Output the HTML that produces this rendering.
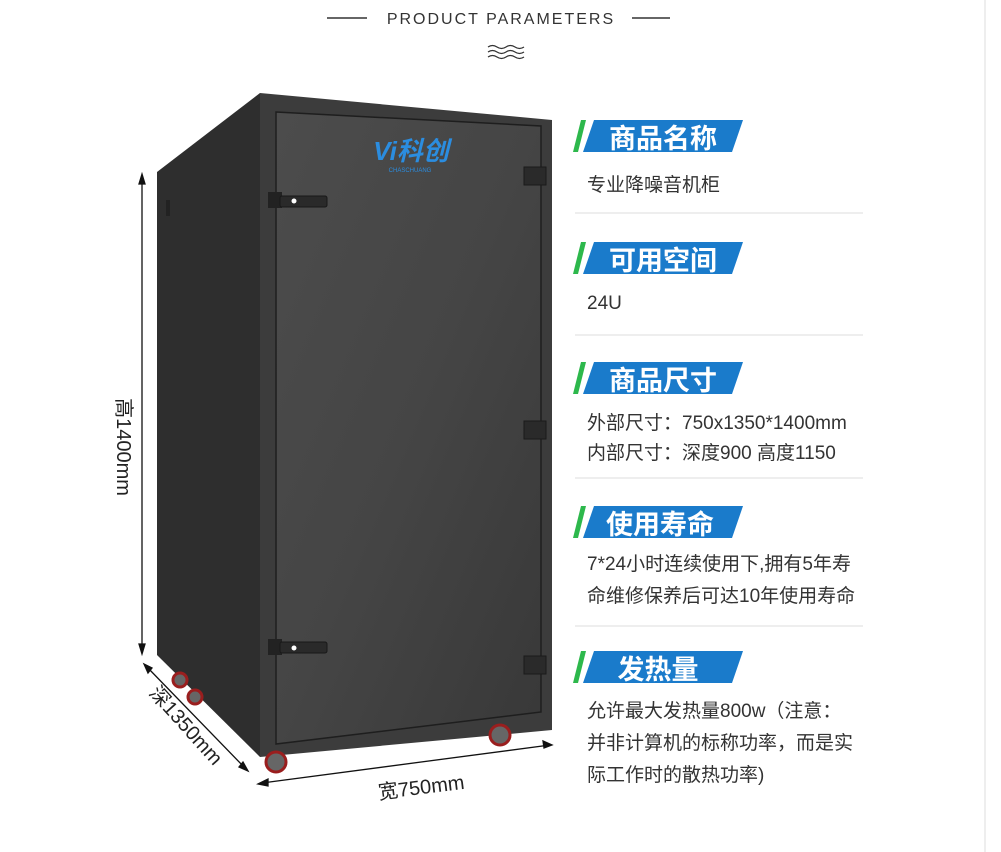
<!DOCTYPE html>
<html><head><meta charset="utf-8"><style>
body{margin:0;background:#fff;width:1001px;height:852px;overflow:hidden;font-family:"Liberation Sans","Noto Sans CJK SC",sans-serif}
svg{position:absolute;left:0;top:0}
</style></head><body>
<svg width="1001" height="852" viewBox="0 0 1001 852" font-family="Liberation Sans, Noto Sans CJK SC, sans-serif">
<defs>
<linearGradient id="door" x1="0" y1="0" x2="1" y2="1">
<stop offset="0" stop-color="#4c4c4c"/><stop offset="0.5" stop-color="#454545"/><stop offset="1" stop-color="#383838"/></linearGradient>
</defs>
<line x1="985" y1="0" x2="985" y2="852" stroke="#eee" stroke-width="2"/>
<line x1="327" y1="18" x2="367" y2="18" stroke="#333" stroke-width="1.5"/>
<line x1="632" y1="18" x2="670" y2="18" stroke="#333" stroke-width="1.5"/>
<text x="501" y="24" text-anchor="middle" font-size="16" fill="#333" letter-spacing="2">PRODUCT PARAMETERS</text>
<g fill="none" stroke="#333" stroke-width="1.2">
<path d="M488 47 q4.5 -3 9 0 t9 0 t9 0 t9 0"/>
<path d="M488 52 q4.5 -3 9 0 t9 0 t9 0 t9 0"/>
<path d="M488 57 q4.5 -3 9 0 t9 0 t9 0 t9 0"/>
</g>
<polygon points="157,172 260,93 260,757 157,655" fill="#2e2e2e"/>
<polygon points="260,93 552,120 552,730 260,757" fill="#3c3c3c"/>
<polygon points="276,112 541,126 541,712 276,744" fill="url(#door)" stroke="#1e1e1e" stroke-width="1.5"/>
<text x="411" y="160" text-anchor="middle" font-size="26" font-style="italic" font-weight="bold" fill="#2b8de0">Vi科创</text>
<text x="410" y="172" text-anchor="middle" font-size="6" fill="#2b8de0">CHASCHUANG</text>
<rect x="268" y="192" width="14" height="16" fill="#222"/><rect x="280" y="196" width="47" height="11" rx="2" fill="#2a2a2a" stroke="#181818"/><circle cx="294" cy="201" r="2.5" fill="#fff"/>
<rect x="268" y="639" width="14" height="16" fill="#222"/><rect x="280" y="642" width="47" height="11" rx="2" fill="#2a2a2a" stroke="#181818"/><circle cx="294" cy="648" r="2.5" fill="#fff"/>
<rect x="524" y="167" width="22" height="18" fill="#2a2a2a" stroke="#1a1a1a"/>
<rect x="524" y="421" width="22" height="18" fill="#2a2a2a" stroke="#1a1a1a"/>
<rect x="524" y="656" width="22" height="18" fill="#2a2a2a" stroke="#1a1a1a"/>
<rect x="166" y="200" width="4" height="16" fill="#222"/>
<g fill="#666" stroke="#9a1e1e" stroke-width="3"><circle cx="276" cy="762" r="10"/><circle cx="500" cy="735" r="10"/><circle cx="180" cy="680" r="7"/><circle cx="195" cy="697" r="7"/></g>
<g stroke="#111" stroke-width="1.3" fill="#111">
<line x1="142" y1="178" x2="142" y2="650"/><polygon points="142,174 139,184 145,184"/><polygon points="142,654 139,644 145,644"/>
<line x1="147" y1="667" x2="245" y2="768"/><polygon points="144,664 148,673 152,668"/><polygon points="248,771 243,762 239,767"/>
<line x1="262" y1="783" x2="550" y2="745"/><polygon points="258,784 268,779 268,786"/><polygon points="552,745 543,741 544,748"/>
</g>
<text transform="translate(117,447) rotate(90)" text-anchor="middle" font-size="20" fill="#222">高1400mm</text>
<text transform="translate(181,730) rotate(48)" text-anchor="middle" font-size="20" fill="#222">深1350mm</text>
<text transform="translate(422,794) rotate(-7)" text-anchor="middle" font-size="20" fill="#222">宽750mm</text>
<g font-size="19" fill="#333">
<g transform="translate(0,120)"><polygon points="573,32 581,0 586,0 578,32" fill="#2db84c"/><polygon points="583,32 594,0 743,0 732,32" fill="#1a7bcb"/><text x="663" y="28" text-anchor="middle" font-size="27" font-weight="bold" fill="#fff">商品名称</text></g>
<text x="587" y="191">专业降噪音机柜</text>
<line x1="575" y1="213" x2="863" y2="213" stroke="#ddd"/>
<g transform="translate(0,242)"><polygon points="573,32 581,0 586,0 578,32" fill="#2db84c"/><polygon points="583,32 594,0 743,0 732,32" fill="#1a7bcb"/><text x="663" y="28" text-anchor="middle" font-size="27" font-weight="bold" fill="#fff">可用空间</text></g>
<text x="587" y="309">24U</text>
<line x1="575" y1="335" x2="863" y2="335" stroke="#ddd"/>
<g transform="translate(0,362)"><polygon points="573,32 581,0 586,0 578,32" fill="#2db84c"/><polygon points="583,32 594,0 743,0 732,32" fill="#1a7bcb"/><text x="663" y="28" text-anchor="middle" font-size="27" font-weight="bold" fill="#fff">商品尺寸</text></g>
<text x="587" y="429">外部尺寸：750x1350*1400mm</text>
<text x="587" y="459">内部尺寸：深度900  高度1150</text>
<line x1="575" y1="478" x2="863" y2="478" stroke="#ddd"/>
<g transform="translate(0,506)"><polygon points="573,32 581,0 586,0 578,32" fill="#2db84c"/><polygon points="583,32 594,0 743,0 732,32" fill="#1a7bcb"/><text x="660" y="28" text-anchor="middle" font-size="27" font-weight="bold" fill="#fff">使用寿命</text></g>
<text x="587" y="570">7*24小时连续使用下,拥有5年寿</text>
<text x="587" y="602">命维修保养后可达10年使用寿命</text>
<line x1="575" y1="626" x2="863" y2="626" stroke="#ddd"/>
<g transform="translate(0,651)"><polygon points="573,32 581,0 586,0 578,32" fill="#2db84c"/><polygon points="583,32 594,0 743,0 732,32" fill="#1a7bcb"/><text x="658" y="28" text-anchor="middle" font-size="27" font-weight="bold" fill="#fff">发热量</text></g>
<text x="587" y="717">允许最大发热量800w（注意：</text>
<text x="587" y="749">并非计算机的标称功率，而是实</text>
<text x="587" y="781">际工作时的散热功率)</text>
</g>
</svg>
</body></html>
